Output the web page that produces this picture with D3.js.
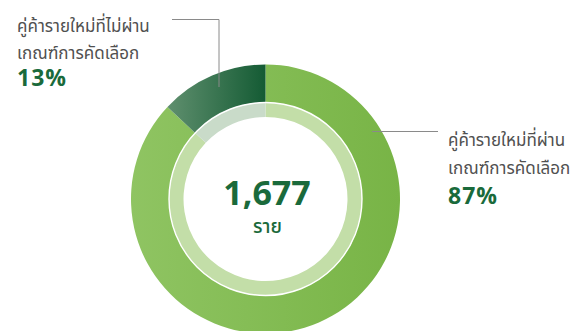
<!DOCTYPE html>
<html>
<head>
<meta charset="utf-8">
<script src="https://cdn.jsdelivr.net/npm/d3@7/dist/d3.min.js"></script>
<style>
  html, body { margin: 0; padding: 0; background: #ffffff; }
  svg { display: block; }
  text { font-family: "Noto Sans Thai", "Noto Sans", sans-serif; }
</style>
</head>
<body>
<svg id="chart" width="582" height="331"></svg>
<script>
// Screening result of new business partners
const categories = ["คู่ค้ารายใหม่ที่ผ่านเกณฑ์การคัดเลือก", "คู่ค้ารายใหม่ที่ไม่ผ่านเกณฑ์การคัดเลือก"];
const labelLine1 = ["คู่ค้ารายใหม่ที่ผ่าน", "คู่ค้ารายใหม่ที่ไม่ผ่าน"];
const labelLine2 = ["เกณฑ์การคัดเลือก", "เกณฑ์การคัดเลือก"];
const percents = [87, 13];
const totalCount = "1,677";
const totalUnit = "ราย";

const cx = 265.5, cy = 199;
const rOuter = 134.5, rMid = 96.5, rInner = 82;

const svg = d3.select("#chart");
const defs = svg.append("defs");

// Horizontal gradients, one per slice
const gradStops = [
  ["#8fc462", "#78b446"],
  ["#5f8f6e", "#145b34"]
];
const paleFill = ["#c3dea8", "#c9dbc9"];

const pie = d3.pie().sort(null).value(d => d);
const arcs = pie(percents);

const outerArc = d3.arc().innerRadius(rMid).outerRadius(rOuter);
const paleArc = d3.arc().innerRadius(rInner).outerRadius(rMid);

const g = svg.append("g").attr("transform", `translate(${cx},${cy})`);

// Gradients spanning each slice's horizontal extent
arcs.forEach((a, i) => {
  const n = 60;
  let minX = Infinity, maxX = -Infinity;
  for (let k = 0; k <= n; k++) {
    const ang = a.startAngle + (a.endAngle - a.startAngle) * k / n;
    [rMid, rOuter].forEach(r => {
      const x = r * Math.sin(ang);
      minX = Math.min(minX, x); maxX = Math.max(maxX, x);
    });
  }
  const grad = defs.append("linearGradient")
    .attr("id", "grad" + i)
    .attr("gradientUnits", "userSpaceOnUse")
    .attr("x1", minX).attr("y1", 0)
    .attr("x2", maxX).attr("y2", 0);
  grad.append("stop").attr("offset", 0).attr("stop-color", gradStops[i][0]);
  grad.append("stop").attr("offset", 1).attr("stop-color", gradStops[i][1]);
});

g.selectAll("path.slice")
  .data(arcs)
  .join("path")
  .attr("class", "slice")
  .attr("d", outerArc)
  .attr("fill", (d, i) => `url(#grad${i})`);

g.selectAll("path.pale")
  .data(arcs)
  .join("path")
  .attr("class", "pale")
  .attr("d", paleArc)
  .attr("fill", (d, i) => paleFill[i]);

// thin white separator between rings
g.append("circle")
  .attr("r", rMid)
  .attr("fill", "none")
  .attr("stroke", "#ffffff")
  .attr("stroke-width", 1.4);

// centre total
g.append("text")
  .attr("x", 1.5).attr("y", 6)
  .attr("text-anchor", "middle")
  .attr("font-size", 34)
  .attr("font-weight", 700)
  .attr("fill", "#1a6a3b")
  .text(totalCount);
g.append("text")
  .attr("x", 2).attr("y", 33.5)
  .attr("text-anchor", "middle")
  .attr("font-size", 19)
  .attr("font-weight", 500)
  .attr("fill", "#1a6a3b")
  .text(totalUnit);

// leader lines
const lineColor = "#8a8a8a";
svg.append("path")
  .attr("d", "M372,131.5H438")
  .attr("fill", "none").attr("stroke", lineColor).attr("stroke-width", 1);
svg.append("path")
  .attr("d", "M172,19.5H219V87")
  .attr("fill", "none").attr("stroke", lineColor).attr("stroke-width", 1);

// labels
const labelPos = [
  { x: 448, y1: 145.5, y2: 174, y3: 204 },
  { x: 17, y1: 31.5, y2: 58.5, y3: 86 }
];
arcs.forEach((a, i) => {
  const p = labelPos[i];
  svg.append("text")
    .attr("transform", `translate(${p.x},${p.y1}) scale(0.92,1)`)
    .attr("font-size", 18.5).attr("fill", "#505050").text(labelLine1[i]);
  svg.append("text")
    .attr("transform", `translate(${p.x},${p.y2}) scale(0.92,1)`)
    .attr("font-size", 18.5).attr("fill", "#505050").text(labelLine2[i]);
  svg.append("text").attr("x", p.x).attr("y", p.y3)
    .attr("font-size", 23).attr("font-weight", 700).attr("fill", "#1a6a3b")
    .attr("letter-spacing", 1)
    .text(percents[i] + "%");
});
</script>
</body>
</html>
